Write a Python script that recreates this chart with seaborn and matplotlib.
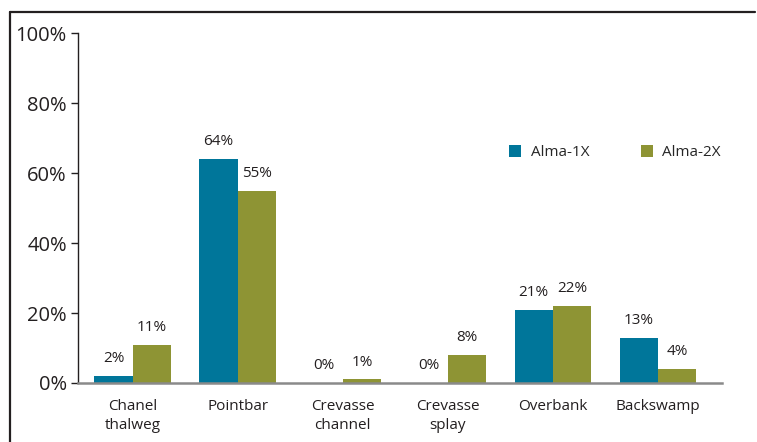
import matplotlib
matplotlib.use("Agg")
import matplotlib.pyplot as plt
from matplotlib.lines import Line2D
import seaborn as sns
import pandas as pd

categories = ["Chanel\nthalweg", "Pointbar", "Crevasse\nchannel", "Crevasse\nsplay", "Overbank", "Backswamp"]
alma1 = [2, 64, 0, 0, 21, 13]
alma2 = [11, 55, 1, 8, 22, 4]
series = ["Alma-1X", "Alma-2X"]
colors = ["#00769a", "#8e9434"]
yticks = [0, 20, 40, 60, 80, 100]

df = pd.DataFrame({
    "cat": categories * 2,
    "val": alma1 + alma2,
    "well": [series[0]] * len(categories) + [series[1]] * len(categories),
})

sns.set_style("white")
plt.rcParams['font.family'] = ['Open Sans', 'DejaVu Sans']

fig = plt.figure(figsize=(7.57, 4.42), dpi=100)
ax = fig.add_axes([0.103, 0.1335, 0.851, 0.7915])
sns.barplot(data=df, x="cat", y="val", hue="well", order=categories,
            hue_order=series, palette=colors, width=0.73, ax=ax,
            saturation=1, legend=True, linewidth=0)

for cont in ax.containers:
    ax.bar_label(cont, labels=[f"{v:.0f}%" for v in cont.datavalues],
                 padding=7, fontsize=11, color="#231f20")

ax.set_ylim(0, 100)
ax.set_xlim(-0.52, 5.61)
ax.set_yticks(yticks)
ax.set_yticklabels([f"{t}%" for t in yticks], fontsize=14.5, color="#231f20")
ax.tick_params(axis="y", which="both", left=True, length=5, width=1, color="#231f20", pad=3)
ax.tick_params(axis="x", bottom=False, labelsize=11, pad=8, colors="#231f20")
for lbl in ax.get_xticklabels():
    lbl.set_linespacing(1.35)
ax.set_xlabel("")
ax.set_ylabel("")
for s in ["top", "right"]:
    ax.spines[s].set_visible(False)
ax.spines["left"].set_color("#231f20")
ax.spines["left"].set_linewidth(1)
ax.spines["bottom"].set_color("#8a8a8a")
ax.spines["bottom"].set_linewidth(1.8)

handles, labels = ax.get_legend_handles_labels()
ax.legend(handles, labels, loc="upper left", bbox_to_anchor=(0.648, 0.72), ncol=2,
          frameon=False, fontsize=11, handlelength=0.8, handleheight=0.8,
          columnspacing=3.4, handletextpad=0.6)

# partial frame around the figure
fig.add_artist(Line2D([10/757, 10/757], [0, 1 - 12/442], transform=fig.transFigure,
                      color="#231f20", linewidth=1.6))
fig.add_artist(Line2D([10/757, 755/757], [1 - 12/442, 1 - 12/442], transform=fig.transFigure,
                      color="#231f20", linewidth=1.6))

fig.savefig("out.png", dpi=100)
